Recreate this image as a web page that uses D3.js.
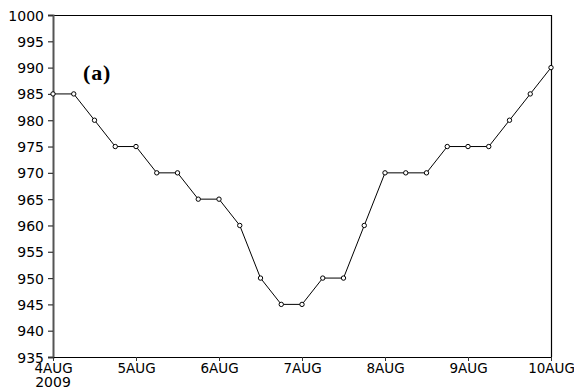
<!DOCTYPE html>
<html>
<head>
<meta charset="utf-8">
<script src="https://cdn.jsdelivr.net/npm/d3@7"></script>
<style>
  body { margin: 0; background: #fff; }
  svg text { font-family: "DejaVu Sans", sans-serif; }
</style>
</head>
<body>
<div id="chart"></div>
<script>
// 6-hourly central pressure, 4AUG 00Z .. 10AUG 00Z 2009
var hours = [0, 6, 12, 18, 24, 30, 36, 42, 48, 54, 60, 66, 72,
             78, 84, 90, 96, 102, 108, 114, 120, 126, 132, 138, 144];
var pressure = [985, 985, 980, 975, 975, 970, 970, 965, 965, 960, 950, 945, 945,
                950, 950, 960, 970, 970, 970, 975, 975, 975, 980, 985, 990];
var dayTicks = [0, 24, 48, 72, 96, 120, 144];
var dayLabels = ["4AUG", "5AUG", "6AUG", "7AUG", "8AUG", "9AUG", "10AUG"];
var yTicks = [935, 940, 945, 950, 955, 960, 965, 970, 975, 980, 985, 990, 995, 1000];

var W = 574, H = 390;
var margin = {top: 15, right: 23, bottom: 33, left: 53};
var width = W - margin.left - margin.right,
    height = H - margin.top - margin.bottom;

var svg = d3.select("#chart").append("svg")
    .attr("width", W)
    .attr("height", H);

var g = svg.append("g")
    .attr("transform", "translate(" + margin.left + "," + margin.top + ")");

var x = d3.scaleLinear().domain([0, 144]).range([0, width]);
var y = d3.scaleLinear().domain([935, 1000]).range([height, 0]);

// frame: top and right
g.append("path")
    .attr("d", "M0,0.5H" + (width + 0.5) + "V" + height)
    .attr("fill", "none")
    .attr("stroke", "#000")
    .attr("stroke-width", 1.2);

// y axis
var yAxis = g.append("g")
    .call(d3.axisLeft(y).tickValues(yTicks).tickFormat(d3.format("d"))
        .tickSize(5).tickPadding(4));
yAxis.select(".domain").attr("stroke", "#555").attr("stroke-width", 2);
yAxis.selectAll(".tick line").attr("stroke", "#333").attr("stroke-width", 1.2);
yAxis.selectAll("text")
    .attr("font-size", 14)
    .attr("fill", "#000")
    .attr("dy", "0.36em");

// x axis
var xAxis = g.append("g")
    .attr("transform", "translate(0," + height + ")")
    .call(d3.axisBottom(x).tickValues(dayTicks)
        .tickFormat(function(d, i) { return dayLabels[i]; })
        .tickSize(4).tickPadding(2).tickSizeOuter(0));
xAxis.select(".domain").attr("stroke", "#000").attr("stroke-width", 1.2);
xAxis.selectAll(".tick line").attr("stroke", "#333");
xAxis.selectAll("text")
    .attr("font-size", 13.5)
    .attr("fill", "#000");

xAxis.append("text")
    .attr("x", x(0))
    .attr("y", 20.5)
    .attr("dy", "0.71em")
    .attr("text-anchor", "middle")
    .attr("font-size", 14)
    .attr("fill", "#000")
    .text("2009");

// line
var line = d3.line()
    .x(function(d, i) { return x(hours[i]); })
    .y(function(d) { return y(d); });

g.append("path")
    .datum(pressure)
    .attr("d", line)
    .attr("fill", "none")
    .attr("stroke", "#000")
    .attr("stroke-width", 1);

g.selectAll("circle.pt")
    .data(pressure)
  .enter().append("circle")
    .attr("class", "pt")
    .attr("cx", function(d, i) { return x(hours[i]); })
    .attr("cy", function(d) { return y(d); })
    .attr("r", 2.2)
    .attr("fill", "#fff")
    .attr("stroke", "#000")
    .attr("stroke-width", 1);

// panel label
svg.append("text")
    .attr("x", 83)
    .attr("y", 80)
    .style("font-family", "'Liberation Serif', 'Times New Roman', serif")
    .attr("font-weight", "bold")
    .attr("font-size", 22)
    .attr("letter-spacing", 0.8)
    .text("(a)");
</script>
</body>
</html>
